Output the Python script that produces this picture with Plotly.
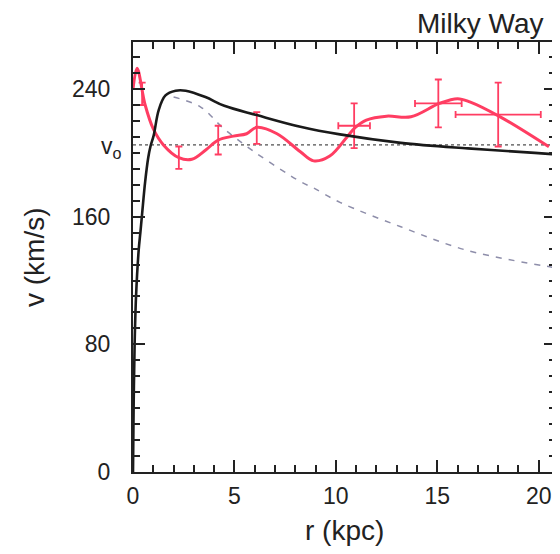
import plotly.graph_objects as go

# Black solid model curve
model_r = [0, 0.03, 0.08, 0.15, 0.28, 0.37, 0.45, 0.6, 0.75, 0.86, 1.02, 1.27, 1.6, 2.1, 2.6, 3.57, 4.5, 6.1, 8.25, 10.2, 13.2, 16.5, 19.8, 20.9]
model_v = [0, 40, 80, 110, 139, 151, 162, 182, 197, 204, 211, 227, 236, 239, 239, 235, 229.5, 223.7, 216.4, 211.6, 206.3, 202.8, 200, 199]

# Dashed grey curve
dash_r = [2.0, 3.32, 4.45, 6.0, 8.25, 8.9, 10.2, 13.2, 16.45, 20.6, 20.9]
dash_v = [235, 228.9, 215.5, 200.5, 182, 178, 169, 153.7, 139, 128.5, 128]

# Red observed curve
obs_r = [0, 0.2, 0.6, 1.0, 1.5, 2.26, 2.9, 3.6, 4.2, 4.95, 5.6, 6.1, 7.1, 8.25, 8.9, 9.7, 10.55, 10.96, 11.5, 12.5, 13.7, 15.1, 16.0, 16.6, 18.1, 20.5]
obs_v = [240, 253, 230, 215, 205, 197, 196, 202, 208, 210.5, 212, 216, 212, 200.7, 195, 198, 210, 216, 220.6, 223, 222.6, 231, 234, 232, 222.6, 203.8]

# Error bars (vertical only)
eb_r = [0.45, 2.26, 4.2, 6.1]
eb_v = [237, 197, 208, 215.6]
eb_dv = [7, 7, 9, 10]

# Error bars (both directions)
ebx_r = [10.9, 15.05, 18.0]
ebx_v = [217, 231, 224]
ebx_dv = [14, 15, 20]
ebx_dr = [0.78, 1.15, 2.1]

v0 = 205
x_range = [0, 20.85]
y_range = [0, 269.5]
x_ticks = [0, 5, 10, 15, 20]
y_ticks = [0, 80, 160, 240]

RED = "#ff3d62"
INK = "#222222"
FONT = "Liberation Sans, Arial, sans-serif"

fig = go.Figure()

fig.add_trace(go.Scatter(x=[0, 21], y=[v0, v0], mode="lines",
                         line=dict(color=INK, width=1, dash="dot"), hoverinfo="skip"))
fig.add_trace(go.Scatter(x=dash_r, y=dash_v, mode="lines", line_shape="spline",
                         line=dict(color="#8e8eaa", width=1.5, dash="6px,7px")))
fig.add_trace(go.Scatter(x=eb_r, y=eb_v, mode="markers", marker=dict(size=1, color=RED),
                         error_y=dict(type="data", array=eb_dv, color=RED, thickness=1.8, width=3.5)))
fig.add_trace(go.Scatter(x=ebx_r, y=ebx_v, mode="markers", marker=dict(size=1, color=RED),
                         error_y=dict(type="data", array=ebx_dv, color=RED, thickness=1.8, width=3.5),
                         error_x=dict(type="data", array=ebx_dr, color=RED, thickness=1.8, width=3.5)))
fig.add_trace(go.Scatter(x=obs_r, y=obs_v, mode="lines", line_shape="spline",
                         line=dict(color=RED, width=3)))
fig.add_trace(go.Scatter(x=model_r, y=model_v, mode="lines", line_shape="spline",
                         line=dict(color="#1a1a1a", width=2.6)))
# invisible trace to anchor the mirror axes (top / right ticks)
fig.add_trace(go.Scatter(x=[1], y=[1], xaxis="x2", yaxis="y2", mode="markers",
                         marker=dict(size=1, opacity=0), hoverinfo="skip"))

tick_font = dict(family=FONT, size=23, color=INK)
common = dict(showgrid=False, zeroline=False, showline=True, linecolor=INK, linewidth=2,
              ticks="inside", tickcolor=INK, tickwidth=1.8, ticklen=12, automargin=False)
xminor = dict(dtick=1, ticklen=7, ticks="inside", tickcolor=INK, tickwidth=1.5)
yminor = dict(dtick=10, ticklen=7, ticks="inside", tickcolor=INK, tickwidth=1.5)

fig.update_layout(
    width=552, height=546,
    margin=dict(l=124.5, r=4, t=34, b=82),
    paper_bgcolor="white", plot_bgcolor="white",
    showlegend=False,
    font=dict(family=FONT, color=INK),
    xaxis=dict(range=x_range, tickvals=x_ticks, ticktext=[str(t) for t in x_ticks],
               tickfont=tick_font, ticklabelstandoff=2, minor=xminor, mirror=True, **common),
    yaxis=dict(range=y_range, tickvals=y_ticks, ticktext=[str(t) for t in y_ticks],
               tickfont=tick_font, ticklabelstandoff=16, minor=yminor, mirror=True, **common),
    xaxis2=dict(range=x_range, overlaying="x", side="top", anchor="y2", tickvals=x_ticks,
                showticklabels=False, minor=xminor, **common),
    yaxis2=dict(range=y_range, overlaying="y", side="right", anchor="x2", tickvals=y_ticks,
                showticklabels=False, minor=yminor, **common),
    annotations=[
        dict(text="Milky Way", xref="paper", yref="paper", x=1, y=1, xanchor="right", yanchor="middle",
             xshift=-10, yshift=19, showarrow=False, font=dict(size=28, family=FONT, color=INK)),
        dict(text="v<sub>o</sub>", xref="paper", yref="y", x=0, y=v0, xanchor="right", yanchor="middle",
             xshift=-9, yshift=-3, showarrow=False, font=dict(size=23, family=FONT, color=INK)),
        dict(text="v (km/s)", xref="paper", yref="paper", x=0, y=0.5, xanchor="center", yanchor="middle",
             xshift=-99, textangle=-90, showarrow=False, font=dict(size=28, family=FONT, color=INK)),
        dict(text="r (kpc)", xref="paper", yref="paper", x=0.5, y=0, xanchor="center", yanchor="middle",
             yshift=-58, showarrow=False, font=dict(size=28, family=FONT, color=INK)),
    ],
)

fig.write_html("out.html")
